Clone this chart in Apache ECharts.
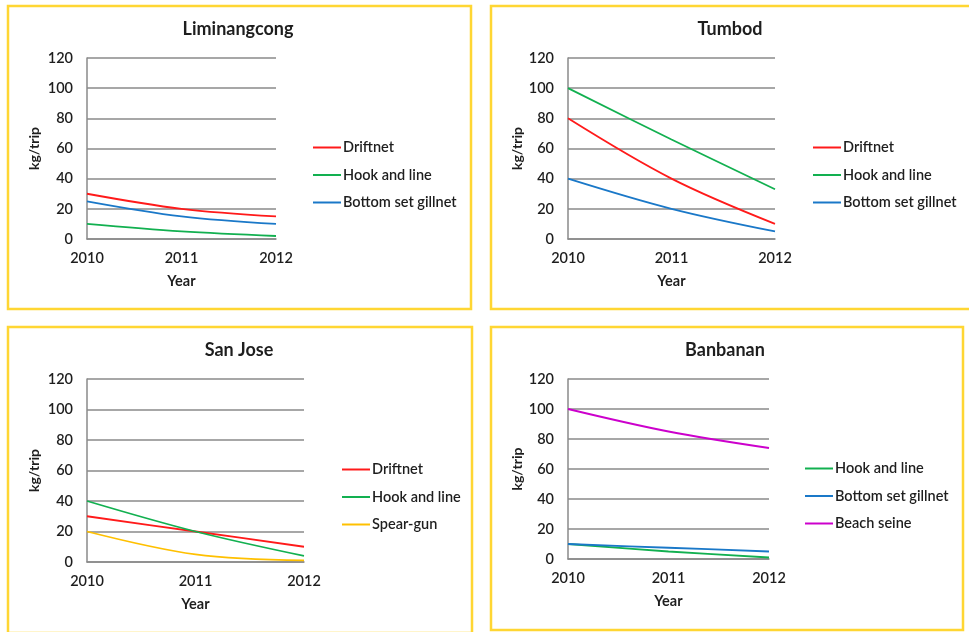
<!DOCTYPE html>
<html>
<head>
<meta charset="utf-8">
<script src="https://cdn.jsdelivr.net/npm/echarts@6/dist/echarts.min.js"></script>
<style>
html,body{margin:0;padding:0;background:#fff;}
#c{width:969px;height:632px;}
</style>
</head>
<body>
<div id="c"></div>
<script>
// ---- data ----
const years = ['2010', '2011', '2012'];
const yTicks = [0, 20, 40, 60, 80, 100, 120];

const liminangcongNames = ['Driftnet', 'Hook and line', 'Bottom set gillnet'];
const liminangcongDriftnet = [30, 20, 15];
const liminangcongHook = [10, 5, 2];
const liminangcongBottom = [25, 15, 10];

const tumbodNames = ['Driftnet', 'Hook and line', 'Bottom set gillnet'];
const tumbodDriftnet = [80, 40, 10];
const tumbodHook = [100, 66, 33];
const tumbodBottom = [40, 20, 5];

const sanJoseNames = ['Driftnet', 'Hook and line', 'Spear-gun'];
const sanJoseDriftnet = [30, 20, 10];
const sanJoseHook = [40, 20, 4];
const sanJoseSpear = [20, 5, 1];

const banbananNames = ['Hook and line', 'Bottom set gillnet', 'Beach seine'];
const banbananHook = [10, 5, 1];
const banbananBottom = [10, 7.5, 5];
const banbananBeach = [100, 85, 74];

// ---- styles ----
const FONT = 'Lato';
const TXT = '#1e1e1e';
const colorMap = {
  'Driftnet': '#ff1a1a',
  'Hook and line': '#12b050',
  'Bottom set gillnet': '#1a78c8',
  'Spear-gun': '#ffc000',
  'Beach seine': '#cc00cc'
};

const panels = [
  { title: 'Liminangcong', names: liminangcongNames, data: [liminangcongDriftnet, liminangcongHook, liminangcongBottom],
    frame: [8, 6, 463, 303], grid: { left: 87, top: 58, width: 189, height: 181 }, titleX: 238, titleY: 20, legend: { left: 313, top: 140 }, nameGapY: 46 },
  { title: 'Tumbod', names: tumbodNames, data: [tumbodDriftnet, tumbodHook, tumbodBottom],
    frame: [491, 6, 480, 303], grid: { left: 568, top: 58, width: 207, height: 181 }, titleX: 730, titleY: 20, legend: { left: 813, top: 140 }, nameGapY: 44 },
  { title: 'San Jose', names: sanJoseNames, data: [sanJoseDriftnet, sanJoseHook, sanJoseSpear],
    frame: [8, 327, 464, 306], grid: { left: 87, top: 379, width: 217, height: 183 }, titleX: 239, titleY: 341, legend: { left: 342, top: 462 }, nameGapY: 46 },
  { title: 'Banbanan', names: banbananNames, data: [banbananHook, banbananBottom, banbananBeach],
    frame: [491, 327, 472, 303], grid: { left: 568, top: 379, width: 201, height: 180 }, titleX: 725, titleY: 341, legend: { left: 805, top: 461 }, nameGapY: 44 }
];

const option = {
  animation: false,
  backgroundColor: '#ffffff',
  textStyle: { fontFamily: FONT },
  graphic: [],
  title: [],
  legend: [],
  grid: [],
  xAxis: [],
  yAxis: [],
  series: []
};

panels.forEach((p, i) => {
  option.graphic.push({
    type: 'rect', silent: true, z: -1,
    shape: { x: p.frame[0], y: p.frame[1], width: p.frame[2], height: p.frame[3] },
    style: { fill: 'none', stroke: '#ffd633', lineWidth: 2.5 }
  });
  option.title.push({
    text: p.title, left: p.titleX, top: p.titleY, textAlign: 'center', padding: 0,
    textStyle: { fontFamily: FONT, fontSize: 18, fontWeight: 'bold', color: TXT }
  });
  option.grid.push(Object.assign({ containLabel: false }, p.grid));
  option.xAxis.push({
    type: 'category', gridIndex: i, data: years, boundaryGap: false,
    name: 'Year', nameLocation: 'middle', nameGap: 35,
    nameTextStyle: { fontFamily: FONT, fontSize: 14.5, fontWeight: 'bold', color: TXT },
    axisLine: { show: true, lineStyle: { color: '#8a8a8a', width: 1.5 } },
    axisTick: { show: false },
    axisLabel: { margin: 12, fontFamily: FONT, fontSize: 14.5, fontWeight: 600, color: TXT, showMaxLabel: true, showMinLabel: true },
    splitLine: { show: false }
  });
  option.yAxis.push({
    type: 'value', gridIndex: i, min: yTicks[0], max: yTicks[yTicks.length - 1], interval: yTicks[1] - yTicks[0],
    name: 'kg/trip', nameLocation: 'middle', nameGap: p.nameGapY, nameRotate: 90,
    nameTextStyle: { fontFamily: FONT, fontSize: 14, fontWeight: 'bold', color: TXT },
    axisLine: { show: true, lineStyle: { color: '#8a8a8a', width: 1.5 } },
    axisTick: { show: false },
    axisLabel: { margin: 14, fontFamily: FONT, fontSize: 14.5, fontWeight: 600, color: TXT },
    splitLine: { show: true, lineStyle: { color: '#8a8a8a', width: 1.5 } }
  });
  const legendData = [];
  p.names.forEach((n, k) => {
    const sid = 'p' + i + '_' + k;
    legendData.push({ name: sid });
    option.series.push({
      id: sid, name: sid, type: 'line', xAxisIndex: i, yAxisIndex: i,
      data: p.data[k], smooth: 0.35, symbol: 'none', showSymbol: false,
      lineStyle: { color: colorMap[n], width: 1.8 }, itemStyle: { color: colorMap[n] }
    });
  });
  option.legend.push({
    orient: 'vertical', left: p.legend.left, top: p.legend.top, padding: 0,
    data: legendData, icon: 'rect', itemWidth: 28, itemHeight: 2, itemGap: 12.5,
    selectedMode: false,
    formatter: (function (names) { return function (sid) { return names[+sid.split('_')[1]]; }; })(p.names),
    textStyle: { fontFamily: FONT, fontSize: 14.5, fontWeight: 600, color: TXT, padding: [0, 0, 0, -3] }
  });
});

const chart = echarts.init(document.getElementById('c'), null, { renderer: 'canvas' });
chart.setOption(option);
</script>
</body>
</html>
